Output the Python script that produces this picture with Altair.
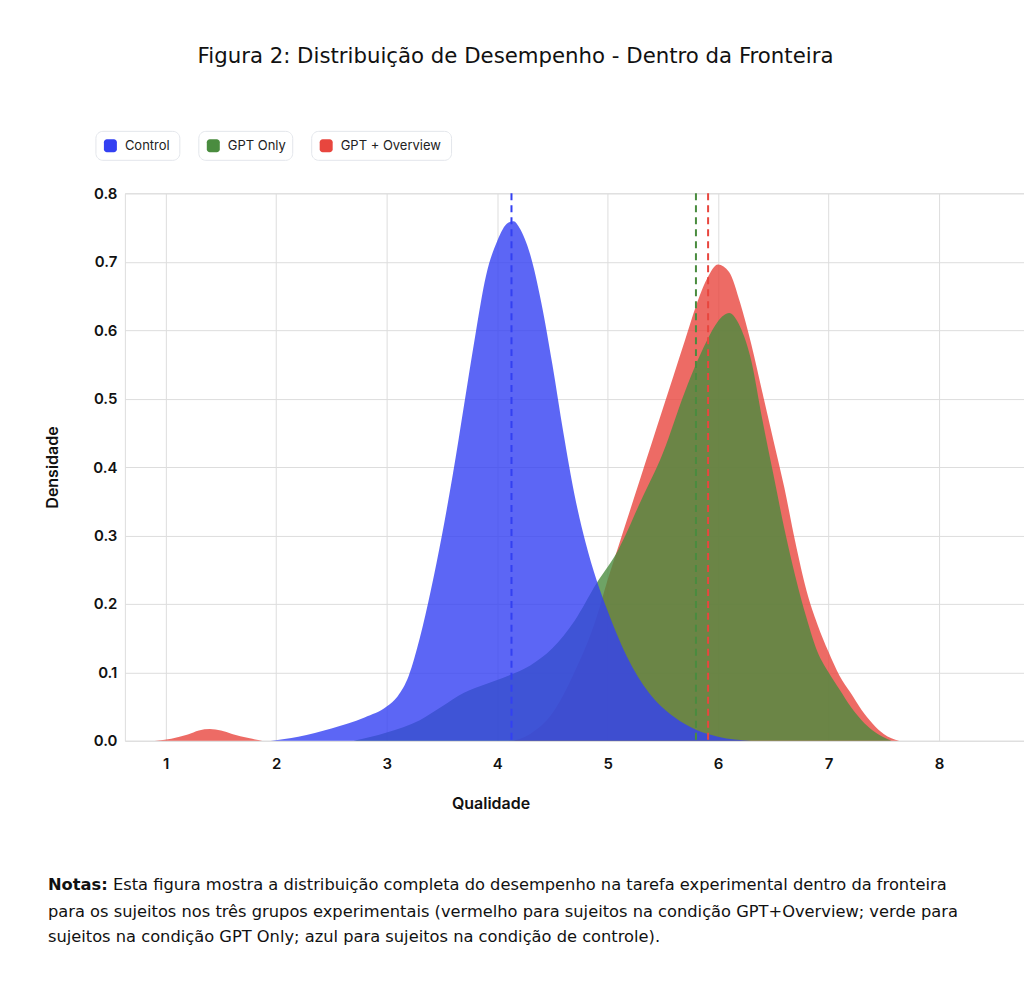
import altair as alt
import pandas as pd

FONT = "DejaVu Sans"
FONT2 = "Inter"

# ---- data ----
groups = ["Control", "GPT Only", "GPT + Overview"]
colors = ["#3340f2", "#4a8c3f", "#e8463e"]

control_x = [1.95, 2.2, 2.5, 2.8, 3.0, 3.1, 3.2, 3.3, 3.4, 3.5, 3.6, 3.7, 3.8, 3.9, 4.0, 4.1, 4.15,
             4.2, 4.3, 4.4, 4.5, 4.6, 4.7, 4.8, 4.9, 5.0, 5.2, 5.4, 5.6, 5.8, 6.0, 6.3]
control_y = [0.0, 0.006, 0.018, 0.034, 0.05, 0.065, 0.095, 0.15, 0.22, 0.30, 0.39, 0.49, 0.59, 0.68,
             0.73, 0.757, 0.759, 0.75, 0.71, 0.64, 0.55, 0.45, 0.36, 0.29, 0.235, 0.19, 0.115, 0.065,
             0.035, 0.016, 0.006, 0.0]

gpt_x = [2.7, 3.0, 3.3, 3.5, 3.7, 3.9, 4.1, 4.3, 4.5, 4.7, 4.9, 5.1, 5.3, 5.5, 5.7, 5.8, 5.9, 6.0,
         6.1, 6.2, 6.3, 6.4, 6.5, 6.6, 6.7, 6.8, 6.9, 7.0, 7.1, 7.2, 7.3, 7.4, 7.57]
gpt_y = [0.0, 0.012, 0.03, 0.05, 0.07, 0.083, 0.095, 0.11, 0.135, 0.175, 0.23, 0.28, 0.35, 0.42,
         0.51, 0.55, 0.585, 0.613, 0.625, 0.605, 0.556, 0.47, 0.39, 0.31, 0.24, 0.18, 0.13, 0.10,
         0.075, 0.05, 0.03, 0.015, 0.0]

over_x = [0.9, 1.05, 1.2, 1.3, 1.4, 1.5, 1.6, 1.75, 1.9, 4.1, 4.3, 4.5, 4.7, 4.9, 5.0, 5.1, 5.2,
          5.3, 5.4, 5.5, 5.6, 5.7, 5.8, 5.9, 6.0, 6.1, 6.2, 6.3, 6.4, 6.5, 6.6, 6.7, 6.8, 6.9, 7.0,
          7.1, 7.2, 7.3, 7.4, 7.5, 7.64]
over_y = [0.0, 0.003, 0.009, 0.015, 0.017, 0.015, 0.01, 0.004, 0.0, 0.0, 0.01, 0.04, 0.10, 0.18,
          0.235, 0.285, 0.335, 0.385, 0.435, 0.485, 0.535, 0.585, 0.635, 0.675, 0.696, 0.685, 0.64,
          0.58, 0.51, 0.44, 0.37, 0.29, 0.22, 0.17, 0.13, 0.095, 0.07, 0.045, 0.025, 0.01, 0.0]

means = [4.13, 5.80, 5.91]

x_ticks = [1, 2, 3, 4, 5, 6, 7, 8]
y_ticks = [0.0, 0.1, 0.2, 0.3, 0.4, 0.5, 0.6, 0.7, 0.8]

title_text = "Figura 2: Distribuição de Desempenho - Dentro da Fronteira"
x_title = "Qualidade"
y_title = "Densidade"
note_bold = "Notas:"
note_lines = [
    "Esta figura mostra a distribuição completa do desempenho na tarefa experimental dentro da fronteira",
    "para os sujeitos nos três grupos experimentais (vermelho para sujeitos na condição GPT+Overview; verde para",
    "sujeitos na condição GPT Only; azul para sujeitos na condição de controle).",
]

W, H = 900, 548

xscale = alt.Scale(domain=[0.63, 8.77], nice=False, zero=False)
yscale = alt.Scale(domain=[0, 0.8], nice=False)

xaxis = alt.Axis(values=x_ticks, format="d", title=x_title, grid=True, domain=False, ticks=False,
                 labelPadding=16, labelFontSize=15, labelFontWeight=600, labelColor="#111",
                 labelFont=FONT2, titleFont=FONT2,
                 titleX=366, titleY=63, titleBaseline="middle", titleFontSize=16,
                 titleFontWeight=600, titleColor="#111")
yaxis = alt.Axis(values=y_ticks, format=".1f", title=y_title, grid=True, domain=False, ticks=False,
                 labelPadding=8, labelFontSize=15, labelFontWeight=600, labelColor="#111",
                 labelFont=FONT2, titleFont=FONT2,
                 titleX=-72, titleY=H / 2, titleAngle=270, titleAlign="center",
                 titleBaseline="middle", titleFontSize=16, titleFontWeight=600, titleColor="#111")

order = [(over_x, over_y, 2), (gpt_x, gpt_y, 1), (control_x, control_y, 0)]

layers = []
for xs, ys, gi in order:
    df = pd.DataFrame({"x": xs, "y": ys})
    layers.append(
        alt.Chart(df).mark_area(color=colors[gi], opacity=0.8, interpolate="monotone").encode(
            x=alt.X("x:Q", scale=xscale, axis=xaxis),
            y=alt.Y("y:Q", scale=yscale, axis=yaxis),
        )
    )

means_df = pd.DataFrame({"group": groups, "mean": means, "color": colors})
rules = alt.Chart(means_df).mark_rule(strokeDash=[7, 5], strokeWidth=2).encode(
    x=alt.X("mean:Q", scale=xscale, axis=xaxis),
    color=alt.Color("color:N", scale=None, legend=None),
)
layers.append(rules)

# title
layers.append(
    alt.Chart(pd.DataFrame({"t": [title_text]})).mark_text(
        font=FONT, fontSize=21.3, fontWeight=400, color="#111", align="center", baseline="middle"
    ).encode(x=alt.value(391), y=alt.value(-136), text="t:N")
)

# legend
box_x = [(-29, 55), (74, 168), (187, 327)]
for i, g in enumerate(groups):
    bx0, bx1 = box_x[i]
    layers.append(
        alt.Chart(pd.DataFrame({"g": [g]})).mark_rect(
            cornerRadius=7, fill="white", stroke="#e3e6eb", strokeWidth=1
        ).encode(x=alt.value(bx0), x2=alt.value(bx1), y=alt.value(-62), y2=alt.value(-33))
    )
    layers.append(
        alt.Chart(pd.DataFrame({"g": [g]})).mark_rect(cornerRadius=3, fill=colors[i]).encode(
            x=alt.value(bx0 + 8), x2=alt.value(bx0 + 21), y=alt.value(-54), y2=alt.value(-41)
        )
    )
    layers.append(
        alt.Chart(pd.DataFrame({"g": [g]})).mark_text(
            font=FONT2, fontSize=13, color="#222", align="left", baseline="middle"
        ).encode(x=alt.value(bx0 + 29), y=alt.value(-47.5), text="g:N")
    )

# notes
note_y = [692, 719, 744]
layers.append(
    alt.Chart(pd.DataFrame({"t": [note_bold]})).mark_text(
        font=FONT, fontSize=16.3, fontWeight=700, color="#111", align="left", baseline="middle"
    ).encode(x=alt.value(-77), y=alt.value(note_y[0]), text="t:N")
)
for i, line in enumerate(note_lines):
    layers.append(
        alt.Chart(pd.DataFrame({"t": [line]})).mark_text(
            font=FONT, fontSize=16.3, color="#111", align="left", baseline="middle"
        ).encode(x=alt.value(-12 if i == 0 else -77), y=alt.value(note_y[i]), text="t:N")
    )

chart = alt.layer(*layers).properties(
    width=W, height=H,
    autosize=alt.AutoSizeParams(type="none"),
    padding={"left": 117, "top": 185, "right": 0, "bottom": 215},
).configure_view(strokeWidth=0).configure_axis(
    gridColor="#e7ebf0", gridWidth=1
).configure(background="white")

chart.save("out.html", embed_options={"renderer": "svg", "actions": False})
